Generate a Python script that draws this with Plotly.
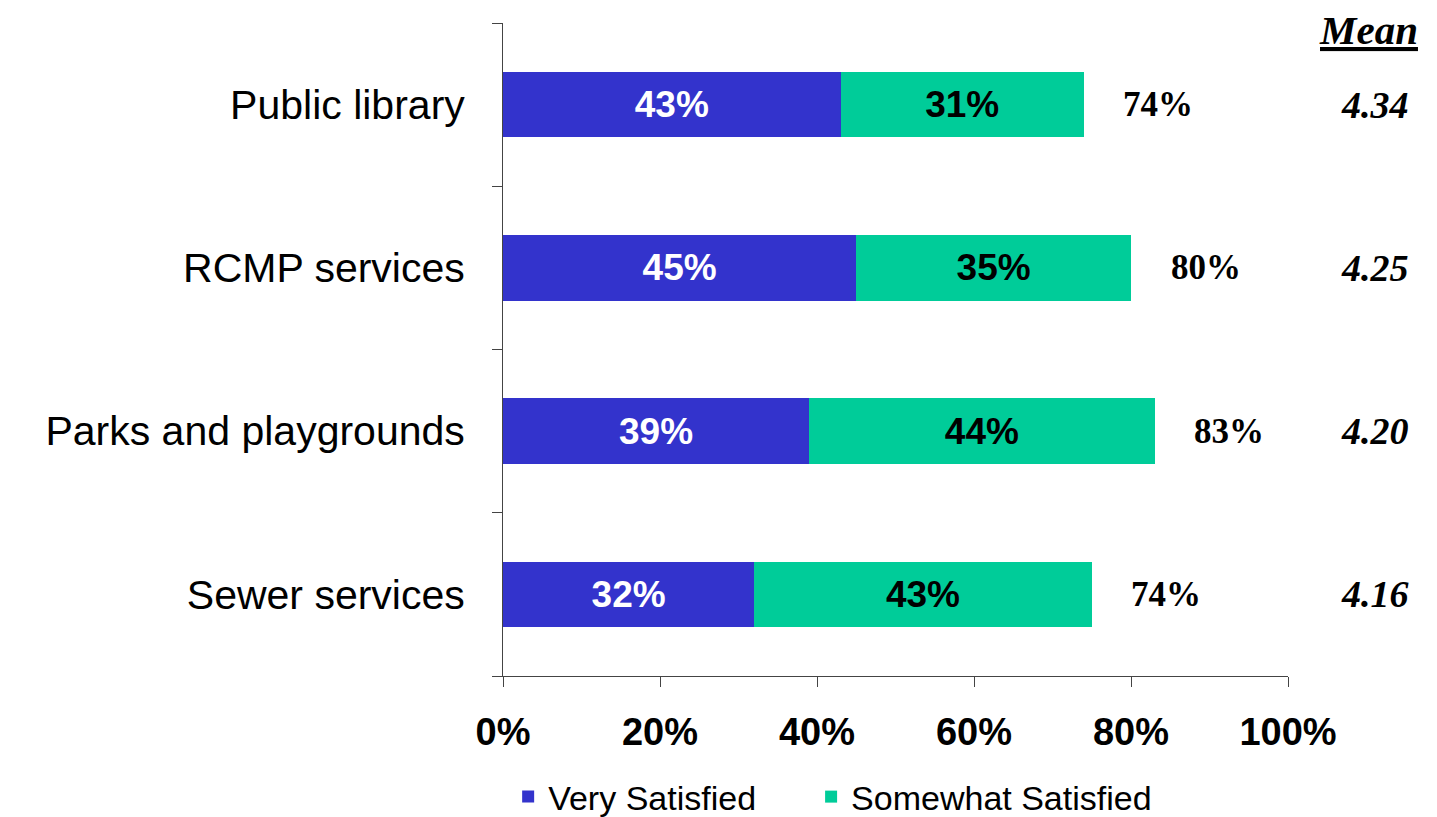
import plotly.graph_objects as go

categories = ["Public library", "RCMP services", "Parks and playgrounds", "Sewer services"]
very_satisfied = [43, 45, 39, 32]
somewhat_satisfied = [31, 35, 44, 43]
total_labels = ["74%", "80%", "83%", "74%"]
means = ["4.34", "4.25", "4.20", "4.16"]
x_ticks = [0, 20, 40, 60, 80, 100]
x_tick_text = ["0%", "20%", "40%", "60%", "80%", "100%"]

BLUE = "#3333CC"
GREEN = "#00CC99"
SANS = "Arial, Liberation Sans"
SERIF = "Liberation Serif, Times New Roman"

fig = go.Figure()
fig.add_trace(go.Bar(
    y=categories, x=very_satisfied, orientation="h", name="Very Satisfied",
    marker=dict(color=BLUE, line=dict(width=0)), legend="legend",
    text=[f"{v}%" for v in very_satisfied], textposition="inside",
    insidetextanchor="middle", textangle=0, constraintext="none",
    textfont=dict(family=SANS, size=37, color="white", weight="bold"),
))
fig.add_trace(go.Bar(
    y=categories, x=somewhat_satisfied, orientation="h", name="Somewhat Satisfied",
    marker=dict(color=GREEN, line=dict(width=0)), legend="legend2",
    text=[f"{v}%" for v in somewhat_satisfied], textposition="inside",
    insidetextanchor="middle", textangle=0, constraintext="none",
    textfont=dict(family=SANS, size=37, color="black", weight="bold"),
))

annotations = []
for cat, a, b, lab, m in zip(categories, very_satisfied, somewhat_satisfied, total_labels, means):
    annotations.append(dict(
        x=a + b + 9.5, y=cat, xref="x", yref="y", text=f"<b>{lab}</b>", showarrow=False,
        xanchor="center", yanchor="middle",
        font=dict(family=SERIF, size=35, color="black"),
    ))
    annotations.append(dict(
        x=1.111, y=cat, xref="paper", yref="y", text=f"<b><i>{m}</i></b>", showarrow=False,
        xanchor="center", yanchor="middle",
        font=dict(family=SERIF, size=38, color="black"),
    ))
annotations.append(dict(
    x=1.103, y=1.0, xref="paper", yref="paper", text="<b><i><u>Mean</u></i></b>", showarrow=False,
    xanchor="center", yanchor="middle", yshift=-7,
    font=dict(family=SERIF, size=41, color="black"),
))

legend_common = dict(orientation="h", y=0.0247, xanchor="left", yanchor="middle",
                     xref="container", yref="container", bgcolor="rgba(0,0,0,0)",
                     font=dict(family=SANS, size=34, color="black"), itemwidth=30)

fig.update_layout(
    barmode="stack",
    bargap=0.6,
    width=1429, height=809,
    margin=dict(l=495, r=149, t=15, b=141, autoexpand=False),
    plot_bgcolor="white", paper_bgcolor="white",
    showlegend=True,
    legend=dict(x=0.35, **legend_common),
    legend2=dict(x=0.562, **legend_common),
    annotations=annotations,
    xaxis=dict(range=[0, 100], tickvals=x_ticks, ticktext=x_tick_text, automargin=False,
               showgrid=False, zeroline=False, showline=True, linecolor="#444", linewidth=1,
               ticks="outside", ticklen=10, tickcolor="#444",
               tickfont=dict(family=SANS, size=38, color="black", weight="bold"),
               ticklabelstandoff=12),
    yaxis=dict(categoryorder="array", categoryarray=categories[::-1], range=[-0.5, 3.5],
               automargin=False,
               showgrid=False, zeroline=False, showline=True, linecolor="#444", linewidth=1,
               ticks="", tickfont=dict(family=SANS, size=41, color="black"),
               ticklabelstandoff=29),
)
fig.update_yaxes(minor=dict(tickvals=[-0.5, 0.5, 1.5, 2.5, 3.5], ticks="outside", ticklen=10,
                            tickcolor="#444", showgrid=False))

fig.write_html("out.html")
